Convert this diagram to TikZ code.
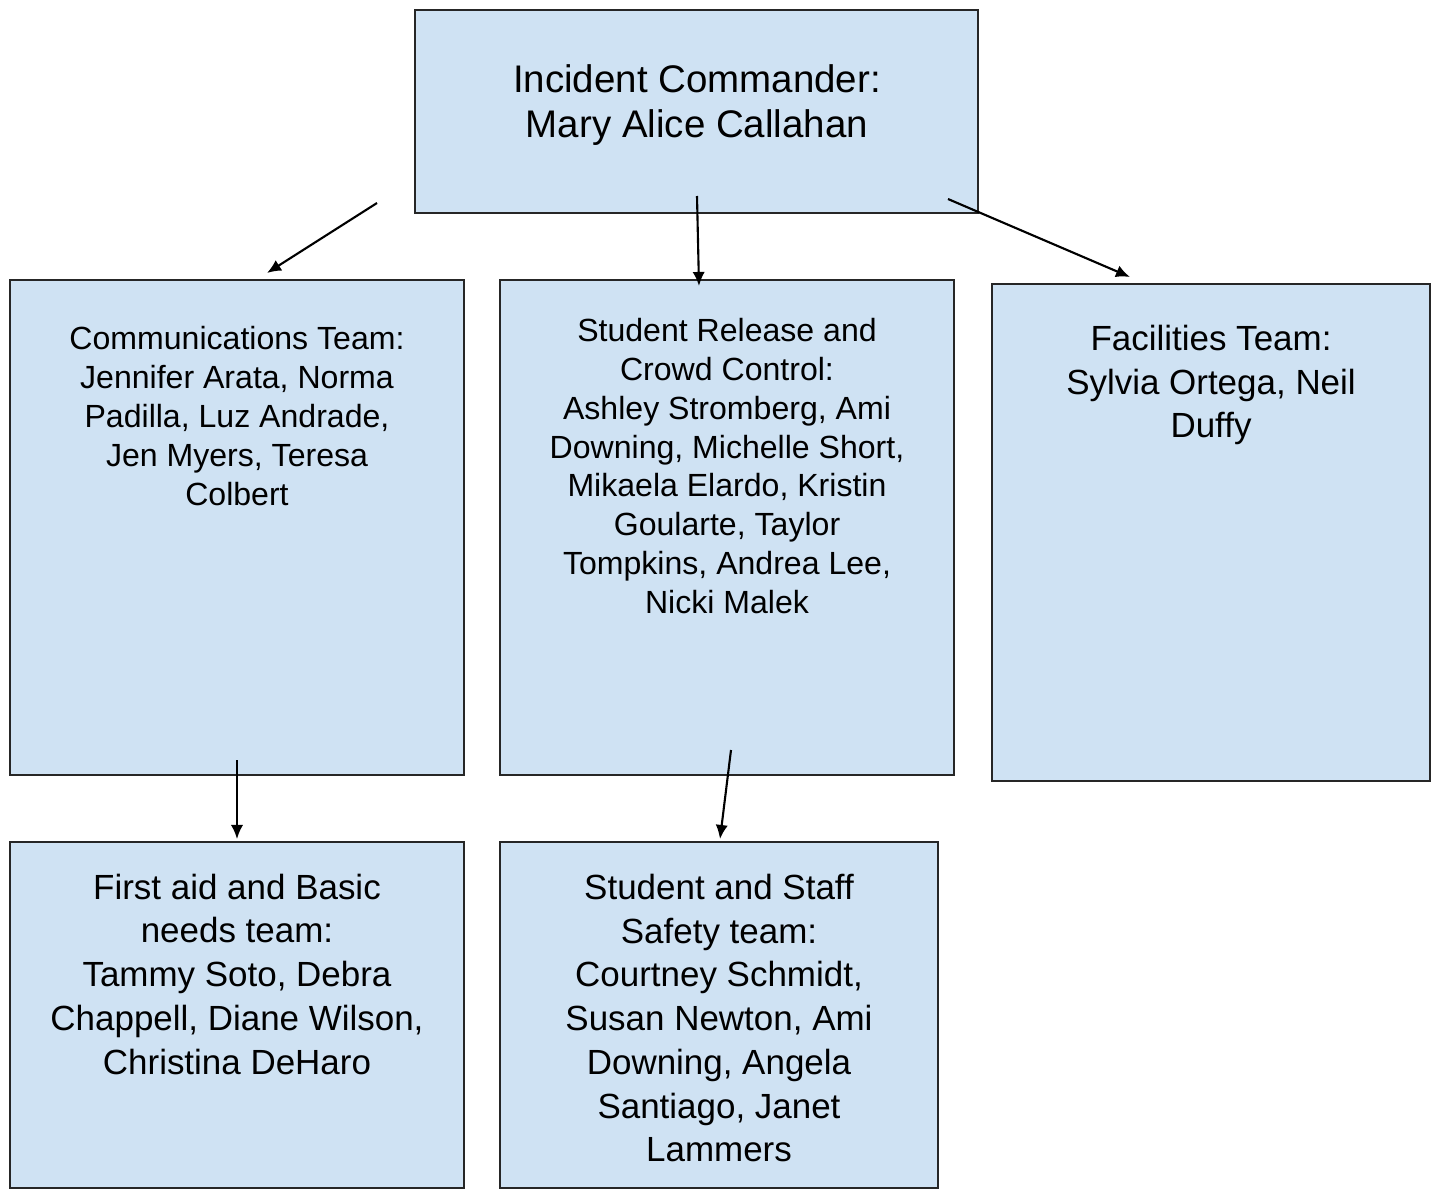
\documentclass[tikz,border=0pt]{standalone}
\usepackage{fontspec}
\setmainfont{Liberation Sans}
\usetikzlibrary{arrows.meta}
\definecolor{boxblue}{HTML}{CFE2F3}
\tikzset{
  box/.style={draw=black!85,line width=1.1pt,fill=boxblue,inner sep=0pt,outer sep=0pt},
  big/.style={align=center,font=\fontsize{21.9pt}{26.1pt}\selectfont},
  mid/.style={align=center,font=\fontsize{19.9pt}{24.9pt}\selectfont},
  small/.style={align=center,font=\fontsize{18.25pt}{22.1pt}\selectfont}
}
\begin{document}
\begin{tikzpicture}[x=0.02cm,y=-0.02cm,>={Latex[length=8pt,width=7pt]}]
\useasboundingbox (0,0) rectangle (1437,1190);
\node[box,minimum width=11.26cm,minimum height=4.06cm] (ic) at (696.5,111.5){};
\node[box,minimum width=9.08cm,minimum height=9.9cm] (comm) at (237,527.5){};
\node[box,minimum width=9.08cm,minimum height=9.9cm] (release) at (727,527.5){};
\node[box,minimum width=8.76cm,minimum height=9.94cm] (facil) at (1211,532.5){};
\node[box,minimum width=9.08cm,minimum height=6.92cm] (aid) at (237,1015){};
\node[box,minimum width=8.76cm,minimum height=6.92cm] (safety) at (719,1015){};

\node[big] (ictext) at (697,105){Incident Commander:\\Mary Alice Callahan};
\node[small] (commtext) at (237,416){Communications Team:\\Jennifer Arata, Norma\\Padilla, Luz Andrade,\\Jen Myers, Teresa\\Colbert};
\node[small] (releasetext) at (727,466){Student Release and\\Crowd Control:\\Ashley Stromberg, Ami\\Downing, Michelle Short,\\Mikaela Elardo, Kristin\\Goularte, Taylor\\Tompkins, Andrea Lee,\\Nicki Malek};
\node[mid] (faciltext) at (1211,385){Facilities Team:\\Sylvia Ortega, Neil\\Duffy};
\node[mid] (aidtext) at (237,974){First aid and Basic\\needs team:\\Tammy Soto, Debra\\Chappell, Diane Wilson,\\Christina DeHaro};
\node[mid] (safetytext) at (719,1018){Student and Staff\\Safety team:\\Courtney Schmidt,\\Susan Newton, Ami\\Downing, Angela\\Santiago, Janet\\Lammers};

\coordinate (s1) at (377,203);
\coordinate (e1) at (267,273);
\coordinate (s2) at (697,196);
\coordinate (e2) at (699,286);
\coordinate (s3) at (948,199);
\coordinate (e3) at (1130,277);
\coordinate (s4) at (237,760);
\coordinate (e4) at (237,839);
\coordinate (s5) at (731,750);
\coordinate (e5) at (720,839);
\foreach \a/\b in {s1/e1,s2/e2,s3/e3,s4/e4,s5/e5}
{
    \draw[->,line width=1.2pt] (\a)--(\b);
}
\end{tikzpicture}
\end{document}
